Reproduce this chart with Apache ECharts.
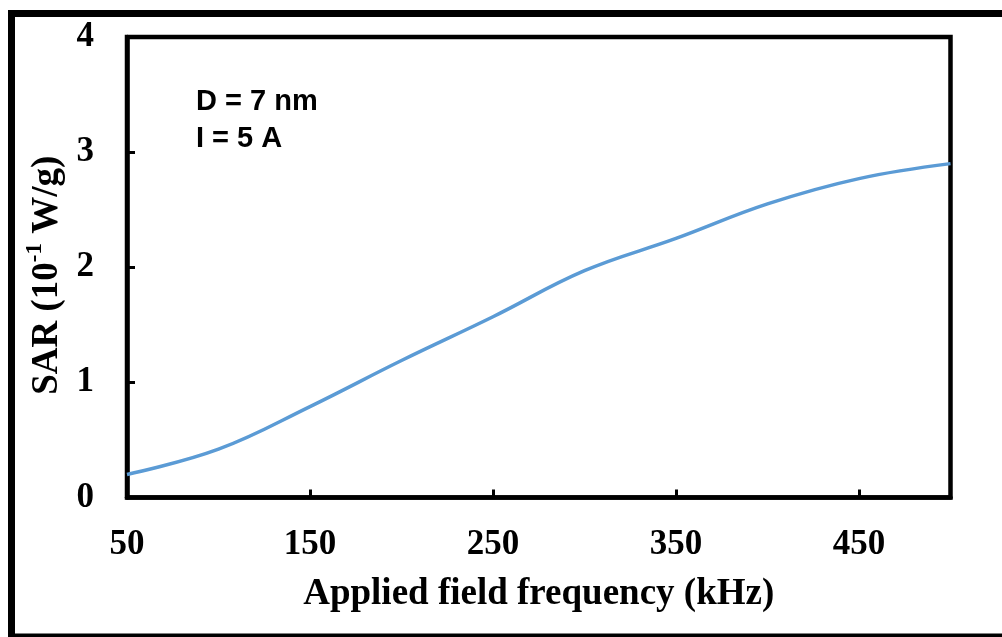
<!DOCTYPE html>
<html>
<head>
<meta charset="utf-8">
<script src="https://cdn.jsdelivr.net/npm/echarts@6/dist/echarts.min.js"></script>
<style>
  html, body { margin: 0; padding: 0; background: #fff; }
  #chart { width: 1002px; height: 637px; }
</style>
</head>
<body>
<div id="chart"></div>
<script>
// Applied field frequency (kHz) and specific absorption rate (10^-1 W/g)
const frequency = [50, 100, 150, 200, 250, 300, 350, 400, 450, 500];
const sar = [0.20, 0.42, 0.79, 1.19, 1.57, 1.97, 2.25, 2.55, 2.77, 2.90];
const xTickLabels = [50, 150, 250, 350, 450];
const xInnerTicks = [150, 250, 350, 450];
const noteLines = ['D = 7 nm', 'I = 5 A'];

const serif = '"Liberation Serif", "Times New Roman", serif';
const sans = '"Liberation Sans", Arial, sans-serif';

const chart = echarts.init(document.getElementById('chart'), null, { renderer: 'canvas' });

chart.setOption({
  backgroundColor: '#ffffff',
  animation: false,
  grid: {
    left: 127, top: 37, right: 51.5, bottom: 139.5,
    show: true, borderColor: '#000', borderWidth: 4.5, backgroundColor: 'transparent'
  },
  xAxis: {
    type: 'value',
    min: 50, max: 500,
    name: 'Applied field frequency (kHz)',
    nameLocation: 'middle',
    nameGap: 78,
    nameTextStyle: { fontFamily: serif, fontWeight: 'bold', fontSize: 37, color: '#000' },
    axisLine: { show: true, lineStyle: { color: '#000', width: 4.5 } },
    axisTick: { show: true, inside: true, length: 8, customValues: xInnerTicks, lineStyle: { color: '#000', width: 3 } },
    axisLabel: { customValues: xTickLabels, margin: 30, fontFamily: serif, fontWeight: 'bold', fontSize: 35, color: '#000' },
    splitLine: { show: false }
  },
  yAxis: {
    type: 'value',
    min: 0, max: 4, interval: 1,
    name: '{m|SAR (10}{s|-1}{m| W/g)}',
    nameLocation: 'middle',
    nameGap: 58,
    nameRotate: 90,
    nameTextStyle: {
      padding: [0, 16, 0, 0],
      rich: {
        m: { fontFamily: serif, fontWeight: 'bold', fontSize: 37, color: '#000', lineHeight: 42, verticalAlign: 'bottom' },
        s: { fontFamily: serif, fontWeight: 'bold', fontSize: 23, color: '#000', lineHeight: 42, verticalAlign: 'top' }
      }
    },
    axisLine: { show: true, lineStyle: { color: '#000', width: 4.5 } },
    axisTick: { show: true, inside: true, length: 8, customValues: [1, 2, 3], lineStyle: { color: '#000', width: 3 } },
    axisLabel: { margin: 33, fontFamily: serif, fontWeight: 'bold', fontSize: 35, color: '#000' },
    splitLine: { show: false }
  },
  series: [{
    type: 'line',
    data: frequency.map((f, i) => [f, sar[i]]),
    smooth: 0.4,
    showSymbol: false,
    lineStyle: { color: '#5B9BD5', width: 3.5 },
    clip: true
  }],
  graphic: [
    {
      type: 'rect',
      shape: { x: 11.5, y: 13.5, width: 1100, height: 623.5 },
      style: { fill: 'none', stroke: '#000', lineWidth: 7 },
      silent: true, z: 100
    },
    {
      type: 'text',
      left: 196, top: 83,
      style: {
        text: noteLines.join('\n'),
        font: 'bold 29px ' + sans,
        lineHeight: 37,
        fill: '#000'
      },
      z: 100
    }
  ]
});
</script>
</body>
</html>
